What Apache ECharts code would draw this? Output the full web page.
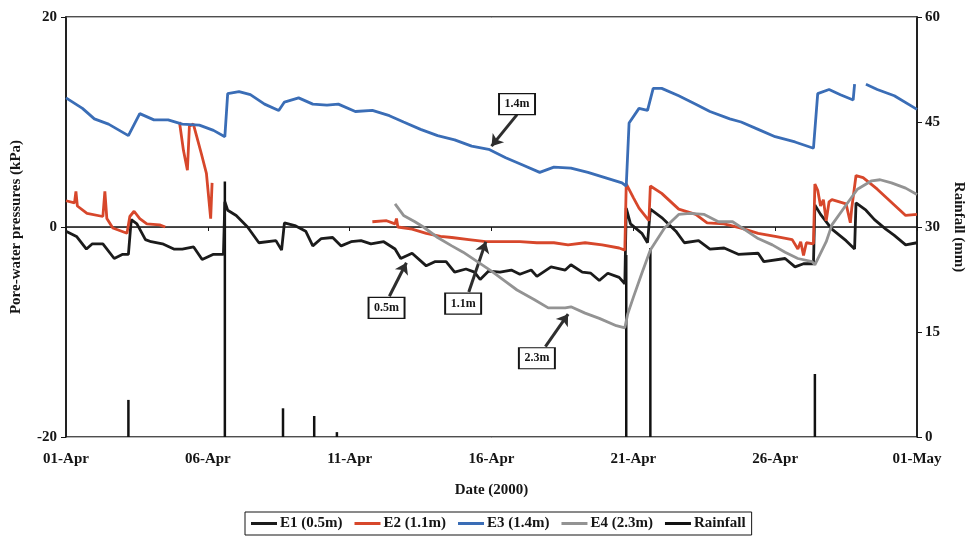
<!DOCTYPE html>
<html>
<head>
<meta charset="utf-8">
<script src="https://cdn.jsdelivr.net/npm/echarts@6/dist/echarts.min.js"></script>
<style>
  html, body { margin: 0; padding: 0; background: #fff; }
  #chart { width: 974px; height: 540px; }
</style>
</head>
<body>
<div id="chart"></div>
<script>
// Days since 01-Apr-2000 on the x axis
const dateLabels = ['01-Apr', '06-Apr', '11-Apr', '16-Apr', '21-Apr', '26-Apr', '01-May'];
const seriesNames = ['E1 (0.5m)', 'E2 (1.1m)', 'E3 (1.4m)', 'E4 (2.3m)', 'Rainfall'];

// Pore-water pressure (kPa) at each tensiometer: [day, kPa]
const e1 = [
  [0, -0.4], [0.37, -0.9], [0.72, -2.1], [0.93, -1.6], [1.3, -1.6], [1.7, -3.0], [2.0, -2.6], [2.2, -2.6],
  [2.3, 0.7], [2.5, 0.3], [2.8, -1.2], [3.0, -1.4], [3.4, -1.6], [3.8, -2.1], [4.1, -2.1], [4.5, -1.9],
  [4.8, -3.1], [5.2, -2.6], [5.55, -2.6], [5.6, 2.4], [5.7, 1.6], [6.0, 1.1], [6.4, 0.0], [6.8, -1.5],
  [7.4, -1.3], [7.6, -2.2], [7.7, 0.4], [8.1, 0.1], [8.45, -0.4], [8.7, -1.8], [9.0, -1.1], [9.4, -1.0],
  [9.7, -1.8], [10.05, -1.4], [10.4, -1.3], [10.75, -1.6], [11.2, -1.4], [11.6, -2.1], [11.8, -3.0],
  [12.2, -2.5], [12.7, -3.7], [13.0, -3.3], [13.4, -3.3], [13.7, -4.3], [14.1, -4.0], [14.4, -4.3],
  [14.6, -5.0], [14.9, -4.2], [15.3, -4.3], [15.7, -4.1], [16.0, -4.5], [16.4, -4.1], [16.6, -4.7],
  [17.1, -3.8], [17.6, -4.1], [17.8, -3.6], [18.2, -4.3], [18.5, -4.4], [18.8, -5.1], [19.1, -4.4],
  [19.5, -4.8], [19.7, -5.4], [19.75, 1.8], [19.9, 0.3], [20.3, -0.6], [20.5, -1.5], [20.6, 1.7],
  [21.0, 0.9], [21.5, -0.4], [21.8, -1.5], [22.3, -1.3], [22.7, -2.1], [23.2, -2.0], [23.7, -2.6],
  [24.4, -2.5], [24.6, -3.3], [25.35, -3.0], [25.7, -3.8], [26.0, -3.5], [26.35, -3.5], [26.4, 2.1],
  [26.6, 1.2], [27.0, -0.2], [27.5, -1.3], [27.8, -2.1], [27.85, 2.3], [28.2, 1.6], [28.5, 0.7],
  [28.9, -0.2], [29.2, -0.8], [29.6, -1.7], [30.0, -1.5]
];

const e2 = [
  [0, 2.5], [0.3, 2.3], [0.35, 3.4], [0.4, 2.0], [0.74, 1.3], [1.3, 1.0], [1.37, 3.4], [1.44, 0.8],
  [1.65, -0.1], [2.15, -0.6], [2.25, 1.0], [2.4, 1.5], [2.6, 0.8], [2.85, 0.3], [3.3, 0.2], [3.5, 0.0],
  [3.8, null],
  [4.0, 10.0], [4.14, 7.3], [4.28, 5.4], [4.35, 9.6], [4.49, 9.8], [4.6, 8.7], [4.77, 7.0], [4.95, 5.1],
  [5.1, 0.8], [5.15, 4.2],
  [5.5, null],
  [10.8, 0.5], [11.3, 0.6], [11.6, 0.3], [11.65, 0.8], [11.7, 0.0], [12.2, -0.2], [12.7, -0.6],
  [13.2, -0.9], [13.6, -1.0], [14.2, -1.2], [14.8, -1.4], [15.4, -1.4], [16.0, -1.4], [16.6, -1.5],
  [17.2, -1.5], [17.7, -1.7], [18.3, -1.5], [18.9, -1.7], [19.5, -2.0], [19.7, -2.2], [19.75, 4.1],
  [20.0, 2.8], [20.2, 1.8], [20.55, 0.6], [20.6, 3.9], [21.0, 3.2], [21.6, 1.7], [22.2, 1.2],
  [22.6, 0.4], [23.2, 0.3], [23.8, -0.1], [24.4, -0.6], [25.0, -0.9], [25.6, -1.2], [25.8, -2.1],
  [25.9, -1.4], [26.0, -2.7], [26.1, -1.5], [26.35, -1.6], [26.4, 4.1], [26.5, 3.5], [26.6, 2.0],
  [26.7, 2.6], [26.8, 0.6], [26.9, 2.4], [27.0, 2.6], [27.5, 2.2], [27.65, 0.4], [27.7, 1.8],
  [27.85, 4.9], [28.1, 4.7], [28.6, 3.6], [29.0, 2.6], [29.6, 1.1], [30.0, 1.2]
];

const e3 = [
  [0, 12.3], [0.58, 11.3], [1.0, 10.3], [1.5, 9.8], [2.2, 8.7], [2.6, 10.8], [3.1, 10.2], [3.6, 10.2],
  [4.1, 9.8], [4.7, 9.7], [5.2, 9.2], [5.6, 8.6], [5.7, 12.7], [6.1, 12.9], [6.5, 12.6], [7.0, 11.7],
  [7.5, 11.1], [7.7, 11.9], [8.2, 12.3], [8.7, 11.7], [9.2, 11.6], [9.6, 11.7], [10.2, 11.0],
  [10.8, 11.1], [11.4, 10.6], [11.9, 10.0], [12.5, 9.3], [13.1, 8.7], [13.7, 8.3], [14.3, 7.7],
  [14.9, 7.4], [15.5, 6.6], [16.1, 5.9], [16.7, 5.2], [17.2, 5.7], [17.8, 5.6], [18.4, 5.2],
  [19.0, 4.7], [19.6, 4.2], [19.75, 3.9], [19.85, 9.9], [20.2, 11.3], [20.5, 11.1], [20.7, 13.2],
  [21.0, 13.2], [21.6, 12.5], [22.2, 11.7], [22.7, 11.0], [23.4, 10.3], [23.8, 10.0], [24.4, 9.3],
  [25.0, 8.6], [25.7, 8.1], [26.35, 7.5], [26.5, 12.7], [26.9, 13.1], [27.3, 12.6], [27.75, 12.1],
  [27.8, 13.6],
  [28.0, null],
  [28.2, 13.6], [28.6, 13.1], [29.2, 12.5], [30.0, 11.2]
];

const e4 = [
  [11.6, 2.2], [11.9, 1.1], [12.3, 0.5], [12.6, 0.0], [13.1, -1.0], [13.6, -1.8], [14.0, -2.4],
  [14.5, -3.3], [15.0, -4.2], [15.5, -5.2], [15.9, -6.0], [16.5, -6.9], [17.0, -7.7], [17.6, -7.7],
  [17.8, -7.6], [18.3, -8.2], [18.8, -8.7], [19.4, -9.4], [19.7, -9.6], [19.8, -8.3], [20.0, -6.7],
  [20.3, -4.4], [20.6, -2.2], [21.1, -0.1], [21.6, 1.2], [22.0, 1.3], [22.5, 1.2], [23.0, 0.5],
  [23.5, 0.5], [23.9, -0.2], [24.4, -1.1], [24.9, -1.7], [25.35, -2.4], [25.8, -3.0], [26.3, -3.3],
  [26.4, -3.6], [26.8, -1.4], [27.0, 0.2], [27.5, 2.1], [27.9, 3.6], [28.4, 4.4], [28.7, 4.5],
  [29.1, 4.2], [29.6, 3.7], [30.0, 3.1]
];

// Daily rainfall (mm): [day, mm]
const rainfall = [
  [2.2, 5.3], [5.6, 36.5], [7.65, 4.1], [8.75, 3.0], [9.55, 0.7], [19.75, 26], [20.6, 27], [26.4, 9]
];

// Depth callouts: label, box centre [day, kPa], arrow tail and head [day, kPa]
const calloutLabels = ['1.4m', '0.5m', '1.1m', '2.3m'];
const calloutBoxes = [[15.9, 11.7], [11.3, -7.7], [14.0, -7.3], [16.6, -12.5]];
const calloutArrows = [
  [[15.9, 10.7], [15.0, 7.7]],
  [[11.4, -6.6], [12.0, -3.4]],
  [[14.2, -6.2], [14.8, -1.4]],
  [[16.9, -11.4], [17.7, -8.3]]
];

const serif = 'Liberation Serif, Times New Roman, serif';
const ink = '#151515';
const colors = ['#1b1b1b', '#d7472b', '#3a6db6', '#939393'];

const chart = echarts.init(document.getElementById('chart'), null, { renderer: 'canvas' });

const lineSeries = [e1, e2, e3, e4].map((d, i) => ({
  type: 'line',
  name: seriesNames[i],
  data: d,
  yAxisIndex: 0,
  showSymbol: false,
  symbol: 'none',
  connectNulls: false,
  z: 3 + i,
  lineStyle: { color: colors[i], width: 2.8 },
  itemStyle: { color: colors[i] }
}));

chart.setOption({
  animation: false,
  backgroundColor: '#fff',
  grid: {
    left: 66, right: 54, top: 17, bottom: 103,
    show: true, borderColor: ink, borderWidth: 1.5, backgroundColor: 'transparent'
  },
  legend: {
    data: seriesNames,
    top: 512,
    left: 245,
    icon: 'rect',
    itemWidth: 26,
    itemHeight: 3,
    itemGap: 12,
    padding: [4, 6],
    borderColor: ink,
    borderWidth: 1,
    textStyle: { fontFamily: serif, fontWeight: 'bold', fontSize: 15, color: ink, padding: [0, 0, 0, -2] }
  },
  xAxis: {
    type: 'value',
    min: 0, max: 30, interval: 5,
    name: 'Date (2000)',
    nameLocation: 'middle',
    nameGap: 46,
    nameTextStyle: { fontFamily: serif, fontWeight: 'bold', fontSize: 15, color: ink },
    axisLine: { show: true, lineStyle: { color: ink, width: 1.5 } },
    axisTick: { show: true, length: 4, lineStyle: { color: ink, width: 1 } },
    axisLabel: {
      margin: 15,
      fontFamily: serif, fontWeight: 'bold', fontSize: 15, color: ink,
      formatter: v => dateLabels[Math.round(v / 5)]
    },
    splitLine: { show: false }
  },
  yAxis: [
    {
      type: 'value',
      min: -20, max: 20, interval: 20,
      position: 'left',
      name: 'Pore-water pressures (kPa)',
      nameLocation: 'middle',
      nameRotate: 90,
      nameGap: 42,
      nameTextStyle: { fontFamily: serif, fontWeight: 'bold', fontSize: 15, color: ink },
      axisLine: { show: true, lineStyle: { color: ink, width: 1.5 } },
      axisTick: { show: true, length: 5, lineStyle: { color: ink } },
      axisLabel: { margin: 9, fontFamily: serif, fontWeight: 'bold', fontSize: 15, color: ink },
      splitLine: { show: true, lineStyle: { color: '#b5b5b5', width: 1 } }
    },
    {
      type: 'value',
      min: 0, max: 60, interval: 15,
      position: 'right',
      name: 'Rainfall (mm)',
      nameLocation: 'middle',
      nameRotate: -90,
      nameGap: 34,
      nameTextStyle: { fontFamily: serif, fontWeight: 'bold', fontSize: 15, color: ink },
      axisLine: { show: true, lineStyle: { color: ink, width: 1.5 } },
      axisTick: { show: true, length: 5, lineStyle: { color: ink } },
      axisLabel: { margin: 8, fontFamily: serif, fontWeight: 'bold', fontSize: 15, color: ink },
      splitLine: { show: false }
    }
  ],
  series: [
    {
      type: 'bar',
      name: 'Rainfall',
      yAxisIndex: 1,
      data: rainfall,
      barWidth: 2.5,
      z: 2,
      itemStyle: { color: '#111' }
    },
    ...lineSeries,
    {
      type: 'scatter',
      name: 'callouts',
      data: [],
      z: 10,
      markLine: {
        silent: true,
        animation: false,
        symbol: ['none', 'arrow'],
        symbolSize: 11,
        label: { show: false },
        lineStyle: { color: '#2e2e2e', width: 3, type: 'solid' },
        data: calloutArrows.map(a => [{ coord: a[0] }, { coord: a[1] }])
      },
      markPoint: {
        silent: true,
        animation: false,
        symbol: 'rect',
        symbolSize: [36, 21],
        itemStyle: { color: '#fff', borderColor: ink, borderWidth: 1.5 },
        label: {
          show: true, position: 'inside', formatter: '{b}',
          fontFamily: serif, fontWeight: 'bold', fontSize: 12, color: ink
        },
        data: calloutLabels.map((t, i) => ({ name: t, coord: calloutBoxes[i] }))
      }
    }
  ]
});
</script>
</body>
</html>
